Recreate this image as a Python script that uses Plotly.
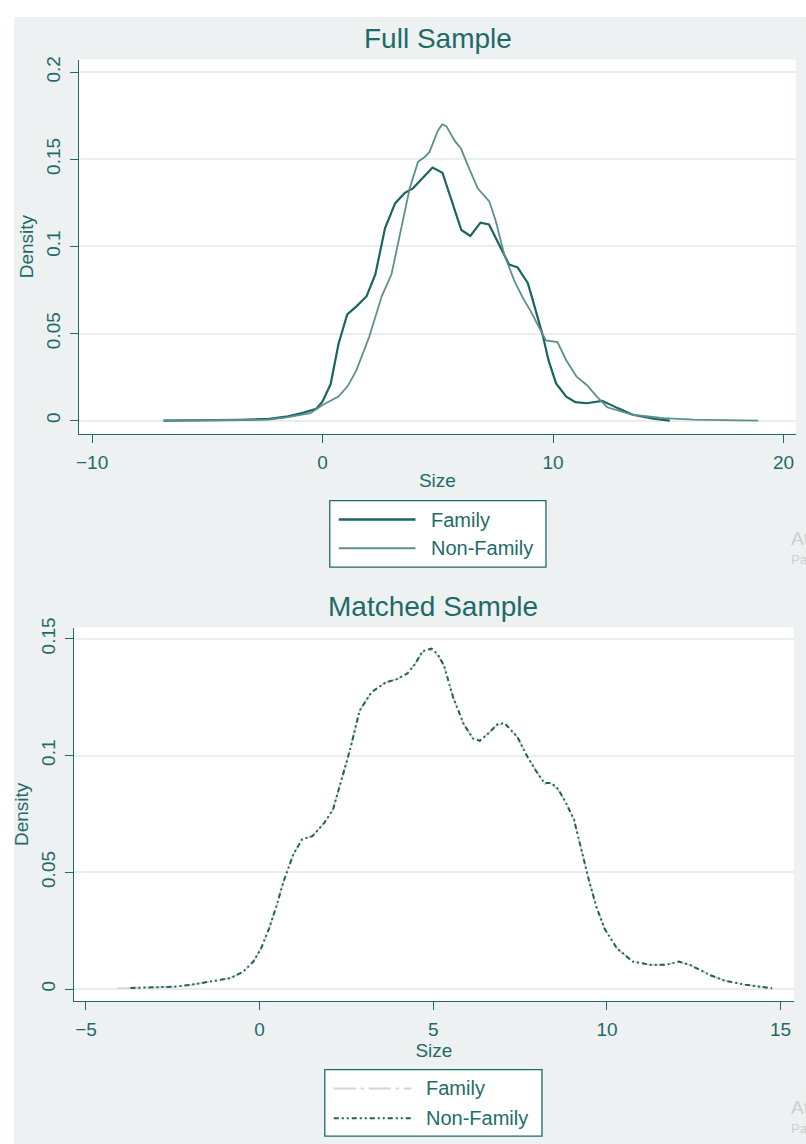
import plotly.graph_objects as go

W, H = 806, 1144

# ---------------- data ----------------
full_family_x = [-6.9, -5.0, -3.5, -2.3, -1.5, -1.0, -0.27, 0.0, 0.35, 0.69, 1.07, 1.47, 1.91, 2.29, 2.71,
                 3.15, 3.57, 3.92, 4.77, 5.2, 5.61, 6.02, 6.41, 6.85, 7.22, 7.66, 8.09, 8.46, 8.9, 9.1,
                 9.3, 9.57, 9.8, 10.13, 10.57, 10.97, 11.46, 12.13, 12.8, 13.46, 14.35, 15.06]
full_family_y = [0.0, 0.0002, 0.0005, 0.001, 0.0025, 0.004, 0.0068, 0.011, 0.021, 0.044, 0.061, 0.0656,
                 0.0714, 0.084, 0.1105, 0.1248, 0.1307, 0.1333, 0.1452, 0.1423, 0.1255, 0.1094, 0.106,
                 0.1136, 0.1126, 0.1005, 0.0896, 0.088, 0.079, 0.07, 0.06, 0.048, 0.0347, 0.0214, 0.0138,
                 0.0106, 0.010, 0.0114, 0.0072, 0.0034, 0.0011, 0.0]

full_nonfamily_x = [-6.9, -5.0, -3.5, -2.31, -1.5, -0.98, -0.53, 0.02, 0.69, 1.1, 1.47, 2.02, 2.57, 2.99,
                    3.42, 3.78, 4.14, 4.43, 4.64, 5.0, 5.19, 5.37, 5.72, 6.01, 6.3, 6.73, 7.24, 7.52, 7.88,
                    8.32, 8.68, 9.02, 9.46, 9.69, 10.19, 10.57, 11.02, 11.46, 11.9, 12.35, 13.46, 14.79,
                    16.12, 17.23, 18.9]
full_nonfamily_y = [0.0, 0.0001, 0.0003, 0.0006, 0.002, 0.0034, 0.0043, 0.0091, 0.0138, 0.02, 0.029, 0.048,
                    0.0715, 0.084, 0.1105, 0.1333, 0.1485, 0.1513, 0.1542, 0.1664, 0.170, 0.169, 0.1608,
                    0.156, 0.1465, 0.1333, 0.1257, 0.1143, 0.0953, 0.0802, 0.0707, 0.063, 0.0518, 0.046,
                    0.0451, 0.0347, 0.0252, 0.0205, 0.0138, 0.0077, 0.0034, 0.0015, 0.0006, 0.0002, 0.0]

matched_family_x = [-4.09, -2.98, -2.46, -1.95, -1.36, -0.84, -0.47, -0.18, 0.04, 0.27, 0.49, 0.68, 0.97,
                    1.22, 1.52, 1.86, 2.11, 2.33, 2.6, 2.88, 3.22, 3.63, 3.95, 4.25, 4.47, 4.69, 4.95,
                    5.13, 5.31, 5.57, 5.87, 6.14, 6.34, 6.58, 6.84, 7.05, 7.42, 7.71, 7.94, 8.2, 8.41,
                    8.6, 8.82, 9.05, 9.26, 9.49, 9.7, 9.93, 10.29, 10.74, 11.25, 11.7, 12.07, 12.43,
                    12.95, 13.39, 13.98, 14.8]
matched_family_y = [0.0003, 0.0007, 0.001, 0.0019, 0.0033, 0.0047, 0.0075, 0.0118, 0.0174, 0.0259, 0.0358,
                    0.0457, 0.0577, 0.0641, 0.0655, 0.0712, 0.0768, 0.0882, 0.1023, 0.1193, 0.1271, 0.1313,
                    0.1327, 0.1351, 0.1391, 0.1442, 0.1450, 0.1428, 0.1384, 0.125, 0.1136, 0.1075, 0.1067,
                    0.1094, 0.1131, 0.1136, 0.108, 0.0995, 0.0938, 0.0878, 0.0876, 0.0852, 0.0797, 0.0726,
                    0.0598, 0.0461, 0.035, 0.0259, 0.0174, 0.0118, 0.0104, 0.0104, 0.0117, 0.0101, 0.0061,
                    0.0036, 0.0019, 0.0002]

matched_nonfamily_x = [-3.72, -2.98, -2.46, -1.95, -1.36, -0.84, -0.47, -0.18, 0.04, 0.27, 0.49, 0.68, 0.97,
                       1.22, 1.52, 1.86, 2.11, 2.33, 2.6, 2.88, 3.22, 3.63, 3.95, 4.25, 4.47, 4.69, 4.95,
                       5.13, 5.31, 5.57, 5.87, 6.14, 6.34, 6.58, 6.84, 7.05, 7.42, 7.71, 7.94, 8.2, 8.41,
                       8.6, 8.82, 9.05, 9.26, 9.49, 9.7, 9.93, 10.29, 10.74, 11.25, 11.7, 12.07, 12.43,
                       12.95, 13.39, 13.98, 14.75]
matched_nonfamily_y = [0.0005, 0.0007, 0.001, 0.0019, 0.0033, 0.0047, 0.0075, 0.0118, 0.0174, 0.0259,
                       0.0358, 0.0457, 0.0577, 0.0641, 0.0655, 0.0712, 0.0768, 0.0882, 0.1023, 0.1193,
                       0.1271, 0.1313, 0.1327, 0.1351, 0.1391, 0.1447, 0.1458, 0.1433, 0.1384, 0.125,
                       0.1136, 0.1073, 0.1063, 0.1094, 0.1133, 0.1139, 0.108, 0.0995, 0.0938, 0.0882,
                       0.0882, 0.0856, 0.0797, 0.0726, 0.0598, 0.0461, 0.035, 0.0259, 0.0174, 0.0118,
                       0.0104, 0.0104, 0.0118, 0.0101, 0.0061, 0.0036, 0.0019, 0.0003]

full_xticks = [-10, 0, 10, 20]
full_xticklabels = ["\u221210", "0", "10", "20"]
full_yticks = [0, 0.05, 0.1, 0.15, 0.2]
full_yticklabels = ["0", "0.05", "0.1", "0.15", "0.2"]
matched_xticks = [-5, 0, 5, 10, 15]
matched_xticklabels = ["\u22125", "0", "5", "10", "15"]
matched_yticks = [0, 0.05, 0.1, 0.15]
matched_yticklabels = ["0", "0.05", "0.1", "0.15"]

series_names = ["Family", "Non-Family"]
panel_titles = ["Full Sample", "Matched Sample"]

# ---------------- style ----------------
TEXT = "#1d6b68"
DARK = "#1a6462"
LIGHT = "#5d8f8d"
PALE = "#cdd5d5"
BG = "#eef1f1"
GRID = "#e9eded"
FONT = "Liberation Sans, Arial, sans-serif"


def px(x):
    return x / W


def py(y):
    return 1 - y / H


fig = go.Figure()

fig.add_trace(go.Scatter(x=full_family_x, y=full_family_y, mode="lines", name=series_names[0],
                         line=dict(color=DARK, width=2.2), xaxis="x", yaxis="y", showlegend=False))
fig.add_trace(go.Scatter(x=full_nonfamily_x, y=full_nonfamily_y, mode="lines", name=series_names[1],
                         line=dict(color=LIGHT, width=1.8), xaxis="x", yaxis="y", showlegend=False))
fig.add_trace(go.Scatter(x=matched_family_x, y=matched_family_y, mode="lines", name=series_names[0],
                         line=dict(color=PALE, width=1.8, dash="22px,5px,3px,5px"),
                         xaxis="x2", yaxis="y2", showlegend=False))
fig.add_trace(go.Scatter(x=matched_nonfamily_x, y=matched_nonfamily_y, mode="lines", name=series_names[1],
                         line=dict(color="#1f5f5d", width=2.0, dash="5px,3px,2px,3px,2px,3px"),
                         xaxis="x2", yaxis="y2", showlegend=False))

axis_common = dict(showline=True, linecolor=TEXT, linewidth=1.3, ticks="outside", ticklen=8,
                   tickcolor=TEXT, tickwidth=1.3, tickfont=dict(family=FONT, size=19, color=TEXT),
                   zeroline=False, fixedrange=True)

fig.update_layout(
    width=W, height=H,
    margin=dict(l=0, r=0, t=0, b=0),
    paper_bgcolor="white", plot_bgcolor="white",
    font=dict(family=FONT, color=TEXT),
    showlegend=False,
    xaxis=dict(domain=[px(76), px(796)], range=[-10.58, 20.54], anchor="y",
               tickmode="array", tickvals=full_xticks, ticktext=full_xticklabels,
               showgrid=False, title=dict(text="Size", font=dict(size=19, color=TEXT), standoff=2),
               ticklabelstandoff=3, **axis_common),
    yaxis=dict(domain=[py(427.3), py(50)], range=[-0.0074, 0.2072], anchor="x",
               tickmode="array", tickvals=full_yticks, ticktext=full_yticklabels, tickangle=-90,
               showgrid=True, gridcolor=GRID, gridwidth=1.5, ticklabelstandoff=2,
               title=dict(text="Density", font=dict(size=19, color=TEXT), standoff=4),
               **axis_common),
    xaxis2=dict(domain=[px(71), px(794)], range=[-5.353, 15.387], anchor="y2",
                tickmode="array", tickvals=matched_xticks, ticktext=matched_xticklabels,
                showgrid=False, title=dict(text="Size", font=dict(size=19, color=TEXT), standoff=0),
                ticklabelstandoff=3, **axis_common),
    yaxis2=dict(domain=[py(1000), py(623)], range=[-0.00522, 0.1548], anchor="x2",
                tickmode="array", tickvals=matched_yticks, ticktext=matched_yticklabels, tickangle=-90,
                showgrid=True, gridcolor=GRID, gridwidth=1.5, ticklabelstandoff=2,
                title=dict(text="Density", font=dict(size=19, color=TEXT), standoff=4),
                **axis_common),
)

shapes = []
# panel background
shapes.append(dict(type="rect", xref="paper", yref="paper", x0=px(11), x1=1, y0=0, y1=py(7),
                   fillcolor=BG, line=dict(width=0), layer="below"))
# plot regions
shapes.append(dict(type="rect", xref="paper", yref="paper", x0=px(76), x1=px(796), y0=py(427.3), y1=py(50),
                   fillcolor="white", line=dict(width=0), layer="below"))
shapes.append(dict(type="rect", xref="paper", yref="paper", x0=px(71), x1=px(794), y0=py(1000), y1=py(623),
                   fillcolor="white", line=dict(width=0), layer="below"))

annotations = []
# titles
annotations.append(dict(text=panel_titles[0], x=px(437), y=py(28.5), xref="paper", yref="paper",
                        showarrow=False, font=dict(size=28, color=TEXT, family=FONT),
                        xanchor="center", yanchor="middle"))
annotations.append(dict(text=panel_titles[1], x=px(432), y=py(602), xref="paper", yref="paper",
                        showarrow=False, font=dict(size=28, color=TEXT, family=FONT),
                        xanchor="center", yanchor="middle"))

# legends (drawn as boxes with sample lines)
legends = [
    dict(box=(328, 545, 495, 562), rows=(514, 543), lx=(337, 414), tx=428,
         styles=[dict(color=DARK, width=2.4, dash="solid"), dict(color=LIGHT, width=2.0, dash="solid")]),
    dict(box=(323, 541, 1069, 1136), rows=(1088, 1118), lx=(332, 410), tx=423,
         styles=[dict(color=PALE, width=1.8, dash="22px,5px,3px,5px"),
                 dict(color="#1f5f5d", width=2.0, dash="5px,3px,2px,3px,2px,3px")]),
]
for lg in legends:
    x0, x1, y0, y1 = lg["box"]
    shapes.append(dict(type="rect", xref="paper", yref="paper", x0=px(x0), x1=px(x1), y0=py(y1), y1=py(y0),
                       fillcolor="white", line=dict(color=TEXT, width=1.3)))
    for row, st, name in zip(lg["rows"], lg["styles"], series_names):
        shapes.append(dict(type="line", xref="paper", yref="paper", x0=px(lg["lx"][0]), x1=px(lg["lx"][1]),
                           y0=py(row), y1=py(row), line=st))
        annotations.append(dict(text=name, x=px(lg["tx"]), y=py(row), xref="paper", yref="paper",
                                showarrow=False, xanchor="left", yanchor="middle",
                                font=dict(size=20, color=TEXT, family=FONT)))

# faint clipped watermark text at right edge (as in the reference)
for ya, yb in [(533, 554), (1107, 1128)]:
    annotations.append(dict(text="At", x=px(789), y=py(ya), xref="paper", yref="paper", showarrow=False,
                            xanchor="left", yanchor="middle", font=dict(size=19, color="#c9cfcf", family=FONT)))
    annotations.append(dict(text="Pas", x=px(789), y=py(yb), xref="paper", yref="paper", showarrow=False,
                            xanchor="left", yanchor="middle", font=dict(size=13, color="#c9cfcf", family=FONT)))

fig.update_layout(shapes=shapes, annotations=annotations)

fig.write_html("out.html", config={"displayModeBar": False},
               post_script="document.body.style.margin='0';document.body.style.padding='0';")
